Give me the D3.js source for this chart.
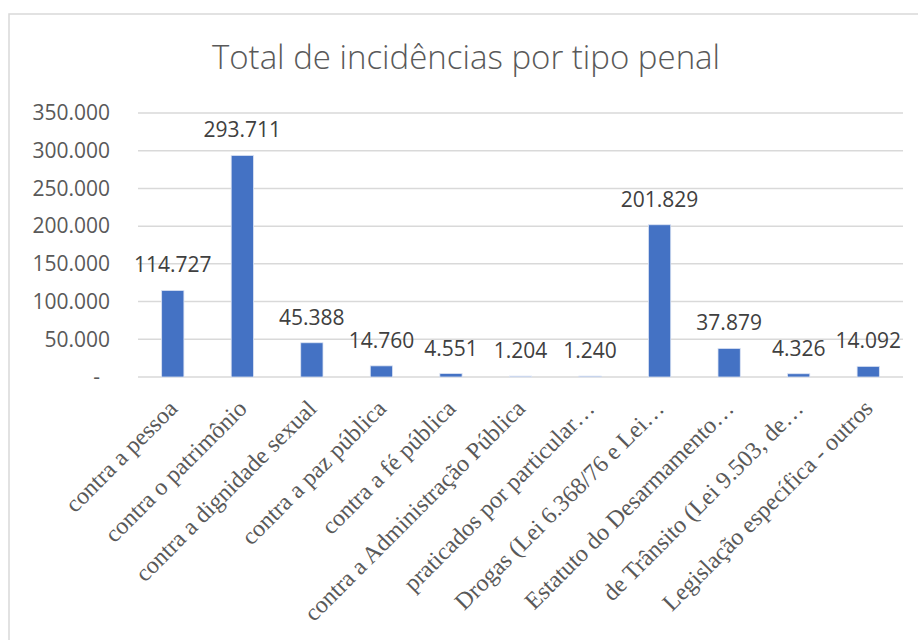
<!DOCTYPE html>
<html>
<head>
<meta charset="utf-8">
<script src="https://cdn.jsdelivr.net/npm/d3@7"></script>
<style>
  body { margin: 0; background: #fff; }
</style>
</head>
<body>
<div id="vis"></div>
<script>
// data
let categories = [
  'contra a pessoa',
  'contra o patrimônio',
  'contra a dignidade sexual',
  'contra a paz pública',
  'contra a fé pública',
  'contra a Administração Pública',
  'praticados por particular…',
  'Drogas (Lei 6.368/76 e Lei…',
  'Estatuto do Desarmamento…',
  'de Trânsito (Lei 9.503, de…',
  'Legislação específica - outros'
];
let values = [114727, 293711, 45388, 14760, 4551, 1204, 1240, 201829, 37879, 4326, 14092];
let yTicks = [0, 50000, 100000, 150000, 200000, 250000, 300000, 350000];
let title = 'Total de incidências por tipo penal';

let width = 918, height = 640;
let margin = { top: 113, left: 138, right: 15, bottom: 263 };

let svg = d3.select('#vis')
  .append('svg')
  .attr('width', width)
  .attr('height', height)
  .style('display', 'block');

// chart frame (right and bottom edges run off the picture)
svg.append('rect')
  .attr('x', 9)
  .attr('y', 14)
  .attr('width', 930)
  .attr('height', 660)
  .attr('fill', 'none')
  .attr('stroke', '#d9d9d9')
  .attr('stroke-width', 1.5)

let ptBR = d3.formatLocale({ decimal: ',', thousands: '.', grouping: [3], currency: ['R$', ''] });
let fmt = ptBR.format(',d');

let x = d3.scaleBand()
  .domain(categories)
  .range([margin.left, width - margin.right])
  .paddingInner(0.68)
  .paddingOuter(0.34);

let y = d3.scaleLinear()
  .domain([0, 350000])
  .range([height - margin.bottom, margin.top]);

// gridlines
svg.append('g')
  .selectAll('line')
  .data(yTicks)
  .join('line')
  .attr('x1', margin.left)
  .attr('x2', width - margin.right)
  .attr('y1', d => y(d))
  .attr('y2', d => y(d))
  .attr('stroke', '#d9d9d9')
  .attr('stroke-width', 1.5)

// y axis labels
let yAxis = svg.append('g')
  .attr('transform', `translate(${margin.left - 28},0)`)
  .call(d3.axisLeft(y).tickValues(yTicks).tickSize(0).tickPadding(0)
    .tickFormat(d => d === 0 ? '-' : fmt(d)));
yAxis.select('.domain').remove();
yAxis.selectAll('text')
  .attr('font-family', 'Open Sans, sans-serif')
  .attr('font-size', 21)
  .attr('fill', '#595959')
  .attr('dx', d => d === 0 ? -10 : 0);

// bars
svg.append('g')
  .selectAll('rect')
  .data(values)
  .join('rect')
  .attr('x', (d, i) => x(categories[i]))
  .attr('y', d => y(d))
  .attr('width', x.bandwidth())
  .attr('height', d => y(0) - y(d))
  .attr('fill', '#4472c4')
  .attr('stroke', '#dbe3f3')
  .attr('stroke-width', 0.8)

// value labels
svg.append('g')
  .selectAll('text')
  .data(values)
  .join('text')
  .attr('x', (d, i) => x(categories[i]) + x.bandwidth() / 2)
  .attr('y', d => y(d) - 18)
  .attr('text-anchor', 'middle')
  .attr('font-family', 'Open Sans, sans-serif')
  .attr('font-size', 21)
  .attr('fill', '#404040')
  .text(d => fmt(d))

// category labels, rotated
svg.append('g')
  .selectAll('text')
  .data(categories)
  .join('text')
  .attr('transform', d => `translate(${x(d) + x.bandwidth() / 2 + 6},${y(0) + 33}) rotate(-45)`)
  .attr('text-anchor', 'end')
  .attr('font-family', 'Liberation Serif, serif')
  .attr('font-size', 24)
  .attr('fill', '#595959')
  .text(d => d)

// title
svg.append('text')
  .attr('x', 466)
  .attr('y', 69)
  .attr('text-anchor', 'middle')
  .attr('font-family', 'Open Sans, sans-serif')
  .attr('font-weight', 300)
  .attr('font-size', 33)
  .attr('fill', '#595959')
  .text(title)
</script>
</body>
</html>
